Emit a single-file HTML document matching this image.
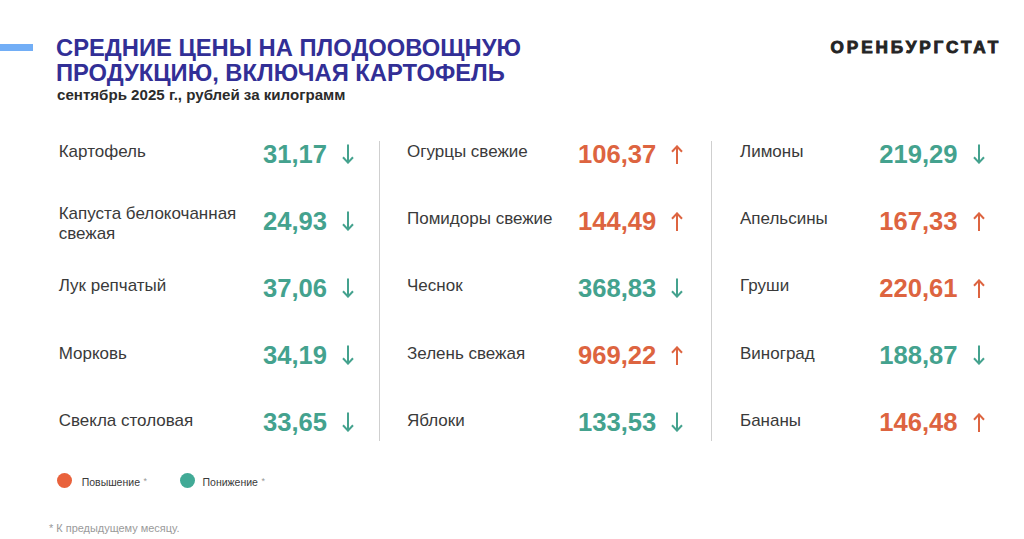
<!DOCTYPE html>
<html><head><meta charset="utf-8">
<style>
html,body{margin:0;padding:0;}
body{width:1024px;height:539px;overflow:hidden;background:#ffffff;position:relative;font-family:"Liberation Sans",sans-serif;}
div,svg{position:absolute;}
.bar{left:0;top:44px;width:33px;height:7px;background:#72aef6;}
.t{left:56px;font-size:23.75px;line-height:23.75px;font-weight:700;color:#322f96;white-space:nowrap;}
.sub{left:57px;font-size:15.1px;line-height:15.1px;font-weight:700;color:#2b2b2b;white-space:nowrap;}
.logo{left:830.5px;font-size:17.2px;line-height:17.2px;font-weight:700;color:#242424;letter-spacing:2.9px;-webkit-text-stroke:0.9px #242424;white-space:nowrap;}
.lab{font-size:17px;line-height:20.2px;color:#3a3a3a;white-space:nowrap;}
.num{font-size:25.6px;line-height:25.6px;font-weight:700;white-space:nowrap;}
.vl{width:1px;background:#cfcfcf;top:141px;height:300px;}
.dot{width:15px;height:15px;border-radius:50%;}
.leg{font-size:10.5px;line-height:10.5px;color:#3a3a3a;white-space:nowrap;}
.leg sup{font-size:9px;vertical-align:top;position:relative;top:-1px;color:#999;margin-left:3.5px;}
.foot{left:49px;font-size:10.95px;line-height:10.95px;color:#9a9a9a;white-space:nowrap;}
</style></head><body>
<div class="bar"></div>
<div class="t" style="top:36.2px">СРЕДНИЕ ЦЕНЫ НА ПЛОДООВОЩНУЮ</div>
<div class="t" style="top:61.4px">ПРОДУКЦИЮ, ВКЛЮЧАЯ КАРТОФЕЛЬ</div>
<div class="sub" style="top:87.02px">сентябрь 2025 г., рублей за килограмм</div>
<div class="logo" style="top:39.04px">ОРЕНБУРГСТАТ</div>
<div class="vl" style="left:379px"></div>
<div class="vl" style="left:711px"></div>
<div class="lab" style="left:58.7px;top:142.41px">Картофель</div>
<div class="num" style="left:263.0px;top:142.43px;color:#44a28e">31,17</div>
<svg class="arr" style="left:341.5px;top:143.79999999999998px" width="12" height="20" viewBox="0 0 12 20"><path d="M6 0.5 V18.6 M1 13.2 L6 18.6 L11 13.2" stroke="#44a28e" stroke-width="2" fill="none" stroke-linejoin="miter"/></svg>
<div class="lab" style="left:58.7px;top:203.51px">Капуста белокочанная<br>свежая</div>
<div class="num" style="left:263.0px;top:209.43px;color:#44a28e">24,93</div>
<svg class="arr" style="left:341.5px;top:210.79999999999998px" width="12" height="20" viewBox="0 0 12 20"><path d="M6 0.5 V18.6 M1 13.2 L6 18.6 L11 13.2" stroke="#44a28e" stroke-width="2" fill="none" stroke-linejoin="miter"/></svg>
<div class="lab" style="left:58.7px;top:276.41px">Лук репчатый</div>
<div class="num" style="left:263.0px;top:276.43px;color:#44a28e">37,06</div>
<svg class="arr" style="left:341.5px;top:277.8px" width="12" height="20" viewBox="0 0 12 20"><path d="M6 0.5 V18.6 M1 13.2 L6 18.6 L11 13.2" stroke="#44a28e" stroke-width="2" fill="none" stroke-linejoin="miter"/></svg>
<div class="lab" style="left:58.7px;top:343.61px">Морковь</div>
<div class="num" style="left:263.0px;top:343.43px;color:#44a28e">34,19</div>
<svg class="arr" style="left:341.5px;top:344.8px" width="12" height="20" viewBox="0 0 12 20"><path d="M6 0.5 V18.6 M1 13.2 L6 18.6 L11 13.2" stroke="#44a28e" stroke-width="2" fill="none" stroke-linejoin="miter"/></svg>
<div class="lab" style="left:58.7px;top:410.61px">Свекла столовая</div>
<div class="num" style="left:263.0px;top:410.43px;color:#44a28e">33,65</div>
<svg class="arr" style="left:341.5px;top:411.8px" width="12" height="20" viewBox="0 0 12 20"><path d="M6 0.5 V18.6 M1 13.2 L6 18.6 L11 13.2" stroke="#44a28e" stroke-width="2" fill="none" stroke-linejoin="miter"/></svg>
<div class="lab" style="left:407.0px;top:142.41px">Огурцы свежие</div>
<div class="num" style="left:578.0px;top:142.43px;color:#dd6440">106,37</div>
<svg class="arr" style="left:671.3px;top:144.5px" width="12" height="20" viewBox="0 0 12 20"><path d="M6 19.0 V1.4 M1 6.8 L6 1.4 L11 6.8" stroke="#dd6440" stroke-width="2" fill="none" stroke-linejoin="miter"/></svg>
<div class="lab" style="left:407.0px;top:209.41px">Помидоры свежие</div>
<div class="num" style="left:578.0px;top:209.43px;color:#dd6440">144,49</div>
<svg class="arr" style="left:671.3px;top:211.5px" width="12" height="20" viewBox="0 0 12 20"><path d="M6 19.0 V1.4 M1 6.8 L6 1.4 L11 6.8" stroke="#dd6440" stroke-width="2" fill="none" stroke-linejoin="miter"/></svg>
<div class="lab" style="left:407.0px;top:276.41px">Чеснок</div>
<div class="num" style="left:578.0px;top:276.43px;color:#44a28e">368,83</div>
<svg class="arr" style="left:671.3px;top:277.8px" width="12" height="20" viewBox="0 0 12 20"><path d="M6 0.5 V18.6 M1 13.2 L6 18.6 L11 13.2" stroke="#44a28e" stroke-width="2" fill="none" stroke-linejoin="miter"/></svg>
<div class="lab" style="left:407.0px;top:343.61px">Зелень свежая</div>
<div class="num" style="left:578.0px;top:343.43px;color:#dd6440">969,22</div>
<svg class="arr" style="left:671.3px;top:345.5px" width="12" height="20" viewBox="0 0 12 20"><path d="M6 19.0 V1.4 M1 6.8 L6 1.4 L11 6.8" stroke="#dd6440" stroke-width="2" fill="none" stroke-linejoin="miter"/></svg>
<div class="lab" style="left:407.0px;top:410.61px">Яблоки</div>
<div class="num" style="left:578.0px;top:410.43px;color:#44a28e">133,53</div>
<svg class="arr" style="left:671.3px;top:411.8px" width="12" height="20" viewBox="0 0 12 20"><path d="M6 0.5 V18.6 M1 13.2 L6 18.6 L11 13.2" stroke="#44a28e" stroke-width="2" fill="none" stroke-linejoin="miter"/></svg>
<div class="lab" style="left:740.0px;top:142.41px">Лимоны</div>
<div class="num" style="left:879.2px;top:142.43px;color:#44a28e">219,29</div>
<svg class="arr" style="left:972.5999999999999px;top:143.79999999999998px" width="12" height="20" viewBox="0 0 12 20"><path d="M6 0.5 V18.6 M1 13.2 L6 18.6 L11 13.2" stroke="#44a28e" stroke-width="2" fill="none" stroke-linejoin="miter"/></svg>
<div class="lab" style="left:740.0px;top:209.41px">Апельсины</div>
<div class="num" style="left:879.2px;top:209.43px;color:#dd6440">167,33</div>
<svg class="arr" style="left:972.5999999999999px;top:211.5px" width="12" height="20" viewBox="0 0 12 20"><path d="M6 19.0 V1.4 M1 6.8 L6 1.4 L11 6.8" stroke="#dd6440" stroke-width="2" fill="none" stroke-linejoin="miter"/></svg>
<div class="lab" style="left:740.0px;top:276.41px">Груши</div>
<div class="num" style="left:879.2px;top:276.43px;color:#dd6440">220,61</div>
<svg class="arr" style="left:972.5999999999999px;top:278.5px" width="12" height="20" viewBox="0 0 12 20"><path d="M6 19.0 V1.4 M1 6.8 L6 1.4 L11 6.8" stroke="#dd6440" stroke-width="2" fill="none" stroke-linejoin="miter"/></svg>
<div class="lab" style="left:740.0px;top:343.61px">Виноград</div>
<div class="num" style="left:879.2px;top:343.43px;color:#44a28e">188,87</div>
<svg class="arr" style="left:972.5999999999999px;top:344.8px" width="12" height="20" viewBox="0 0 12 20"><path d="M6 0.5 V18.6 M1 13.2 L6 18.6 L11 13.2" stroke="#44a28e" stroke-width="2" fill="none" stroke-linejoin="miter"/></svg>
<div class="lab" style="left:740.0px;top:410.61px">Бананы</div>
<div class="num" style="left:879.2px;top:410.43px;color:#dd6440">146,48</div>
<svg class="arr" style="left:972.5999999999999px;top:412.5px" width="12" height="20" viewBox="0 0 12 20"><path d="M6 19.0 V1.4 M1 6.8 L6 1.4 L11 6.8" stroke="#dd6440" stroke-width="2" fill="none" stroke-linejoin="miter"/></svg>
<div class="dot" style="left:56.7px;top:473px;background:#e9623c"></div>
<div class="leg" style="left:81.7px;top:477.11px">Повышение<sup>*</sup></div>
<div class="dot" style="left:179.5px;top:473px;background:#41aa96"></div>
<div class="leg" style="left:202.5px;top:476.91px">Понижение<sup>*</sup></div>
<div class="foot" style="top:523.03px">* К предыдущему месяцу.</div>
</body></html>
